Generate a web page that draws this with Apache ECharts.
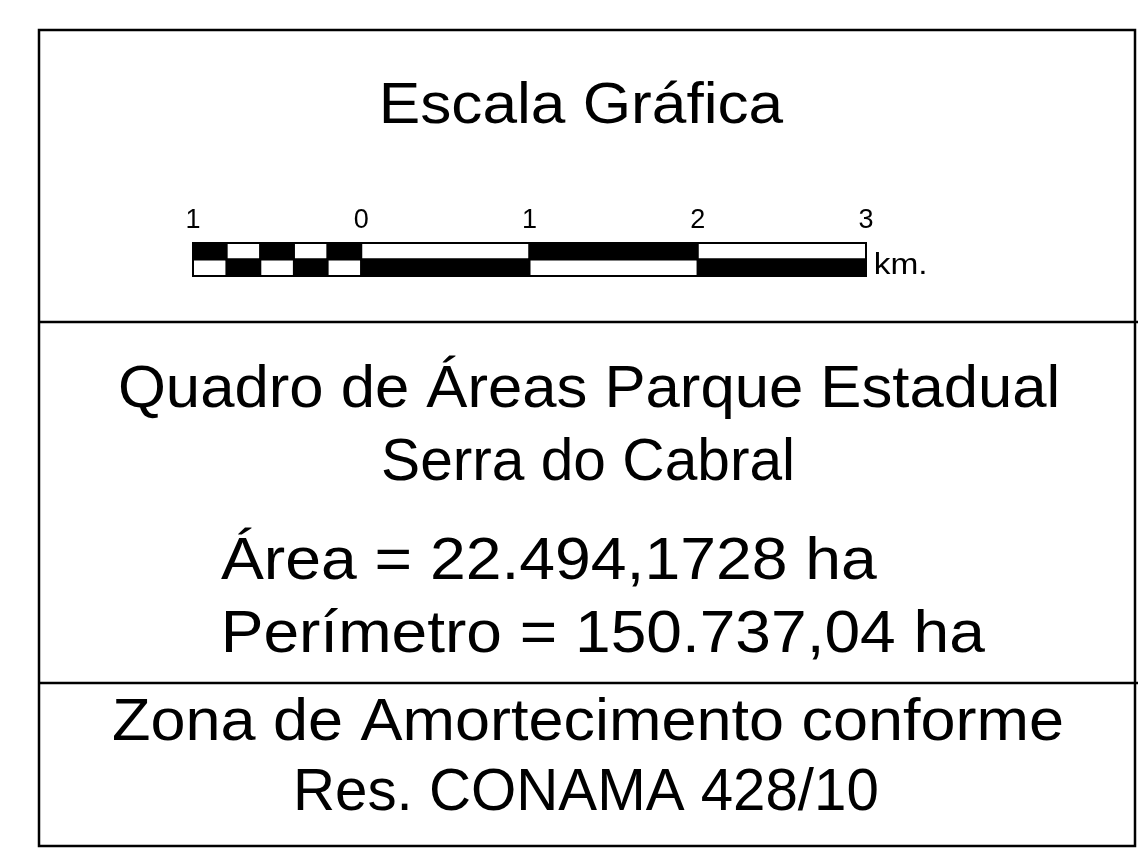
<!DOCTYPE html>
<html>
<head>
<meta charset="utf-8">
<script src="https://cdn.jsdelivr.net/npm/echarts@6/dist/echarts.min.js"></script>
<style>
html,body{margin:0;padding:0;background:#fff;}
#main{width:1146px;height:855px;}
</style>
</head>
<body>
<div id="main"></div>
<script>
// Scale bar data (km)
const segStarts = [-1, -0.8, -0.6, -0.4, -0.2, 0, 1, 2];
const segEnds   = [-0.8, -0.6, -0.4, -0.2, 0, 1, 2, 3];
const topRowBlack    = [1, 0, 1, 0, 1, 0, 1, 0];
const bottomRowBlack = [0, 1, 0, 1, 0, 1, 0, 1];
const tickValues = [-1, 0, 1, 2, 3];
const tickLabels = ['1', '0', '1', '2', '3'];
const unitLabel = 'km.';

// Text blocks
const titleText = 'Escala Gráfica';
const areaTitleLines = ['Quadro de Áreas Parque Estadual', 'Serra do Cabral'];
const areaValueLines = ['Área = 22.494,1728 ha', 'Perímetro = 150.737,04 ha'];
const zoneLines = ['Zona de Amortecimento conforme', 'Res. CONAMA 428/10'];

const FONT = '"Liberation Sans", Arial, Helvetica, sans-serif';

const segData = [];
segStarts.forEach((s, i) => {
  segData.push([s, segEnds[i], 1, topRowBlack[i]]);
  segData.push([s, segEnds[i], 0, bottomRowBlack[i]]);
});

const mctx = document.createElement('canvas').getContext('2d');
// text placed so that its ink spans [left, right], with given baseline
function fitText(text, left, right, baseline, size) {
  const font = size + 'px ' + FONT;
  mctx.font = font;
  const m = mctx.measureText(text);
  const inkL = -m.actualBoundingBoxLeft;
  const inkW = m.actualBoundingBoxRight + m.actualBoundingBoxLeft;
  const s = (right - left) / inkW;
  return {
    type: 'text',
    x: left - inkL * s,
    y: baseline,
    scaleX: s,
    style: {
      text: text, x: 0, y: Math.round(size * 0.212), align: 'left',
      verticalAlign: 'bottom', font: font, fill: '#000'
    },
    z: 10
  };
}

const chart = echarts.init(document.getElementById('main'), null, {renderer: 'canvas'});

const TICK_SIZE = 27;
const option = {
  backgroundColor: '#fff',
  animation: false,
  grid: { left: 193, top: 243, width: 673, height: 33, containLabel: false },
  xAxis: {
    type: 'value', min: -1, max: 3, interval: 1, position: 'top',
    axisLine: { show: false }, axisTick: { show: false }, splitLine: { show: false },
    axisLabel: { show: false }
  },
  yAxis: { type: 'value', min: 0, max: 2, show: false },
  series: [{
    type: 'custom',
    data: segData,
    encode: { x: [0, 1], y: 2 },
    renderItem: function (params, api) {
      const p0 = api.coord([api.value(0), api.value(2) + 1]);
      const p1 = api.coord([api.value(1), api.value(2)]);
      const black = api.value(3) === 1;
      return {
        type: 'rect',
        shape: { x: p0[0], y: p0[1], width: p1[0] - p0[0], height: p1[1] - p0[1] },
        style: { fill: black ? '#000' : '#fff', stroke: '#000', lineWidth: 2 }
      };
    }
  }],
  graphic: [
    { type: 'rect', shape: { x: 39, y: 30, width: 1096, height: 816 }, style: { fill: 'none', stroke: '#000', lineWidth: 2.5 } },
    { type: 'line', shape: { x1: 39, y1: 322, x2: 1138, y2: 322 }, style: { stroke: '#000', lineWidth: 2.5 } },
    { type: 'line', shape: { x1: 39, y1: 683, x2: 1138, y2: 683 }, style: { stroke: '#000', lineWidth: 2.5 } },
    fitText(titleText, 383, 784, 124, 58),
    fitText(unitLabel, 876, 925, 275, 30),
    fitText(areaTitleLines[0], 120, 1057, 407, 59),
    fitText(areaTitleLines[1], 383, 792, 480, 59),
    fitText(areaValueLines[0], 221, 877, 579, 59),
    fitText(areaValueLines[1], 225, 985, 652, 59),
    fitText(zoneLines[0], 113, 1062, 740, 59),
    fitText(zoneLines[1], 297, 877, 810, 59)
  ]
};
chart.setOption(option);

// tick labels positioned through the x axis scale
const tickGraphics = tickValues.map((v, i) => {
  const p = chart.convertToPixel({ gridIndex: 0 }, [v, 2]);
  return {
    type: 'text',
    x: p[0], y: p[1] - 15,
    style: {
      text: tickLabels[i], x: 0, y: Math.round(TICK_SIZE * 0.212),
      align: 'center', verticalAlign: 'bottom',
      font: TICK_SIZE + 'px ' + FONT, fill: '#000'
    },
    z: 10
  };
});
chart.setOption({ graphic: option.graphic.concat(tickGraphics) });
</script>
</body>
</html>
